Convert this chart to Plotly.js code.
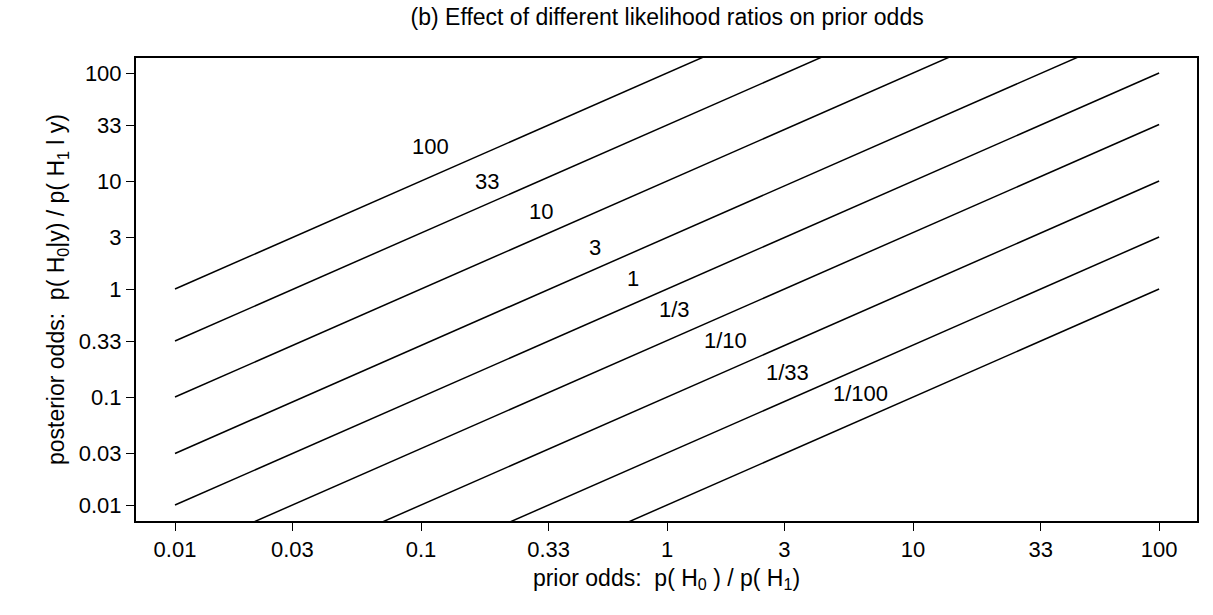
<!DOCTYPE html>
<html>
<head>
<meta charset="utf-8">
<script src="https://cdn.plot.ly/plotly-3.0.1.min.js"></script>
<style>body{margin:0;background:#fff}</style>
</head>
<body>
<div id="chart" style="width:1213px;height:615px"></div>
<script>
// likelihood ratios and their labels
var ratios = [100, 33, 10, 3, 1, 1/3, 1/10, 1/33, 1/100];
var ratioLabels = ['100', '33', '10', '3', '1', '1/3', '1/10', '1/33', '1/100'];
// prior odds range of each line
var priorOdds = [0.01, 100];
// label positions (log10 of prior odds / posterior odds)
var labelX = [-0.963, -0.730, -0.514, -0.293, -0.138, 0.031, 0.236, 0.488, 0.785];
var labelY = [1.324, 1.0, 0.722, 0.389, 0.093, -0.194, -0.481, -0.769, -0.972];

var tickVals = [0.01, 0.03, 0.1, 0.33, 1, 3, 10, 33, 100];
var tickText = ['0.01', '0.03', '0.1', '0.33', '1', '3', '10', '33', '100'];

var traces = ratios.map(function(r) {
    return {
        x: priorOdds,
        y: priorOdds.map(function(p) { return p * r; }),
        mode: 'lines',
        line: {color: 'black', width: 1.5},
        hoverinfo: 'skip',
        showlegend: false
    };
});

var annotations = ratioLabels.map(function(t, i) {
    return {x: labelX[i], y: labelY[i], text: t, showarrow: false,
            font: {size: 22, color: 'black'}};
});

var axisBase = {
    type: 'log',
    tickvals: tickVals,
    ticktext: tickText,
    ticks: 'outside',
    ticklen: 8,
    tickcolor: 'black',
    showline: true,
    linecolor: 'black',
    linewidth: 2,
    mirror: true,
    showgrid: false,
    zeroline: false,
    tickfont: {size: 22, color: 'black'}
};

var layout = {
    width: 1213, height: 615,
    font: {family: 'Liberation Sans, Arial, sans-serif', color: 'black'},
    paper_bgcolor: 'white', plot_bgcolor: 'white',
    margin: {l: 136, r: 16, t: 58, b: 94},
    title: {text: '(b) Effect of different likelihood ratios on prior odds',
            font: {size: 23}, x: 0.55, y: 0.985, yanchor: 'top'},
    xaxis: Object.assign({}, axisBase, {
        range: [-2.1585, 2.154],
        title: {text: 'prior odds:  p( H<sub>0</sub> ) / p( H<sub>1</sub>)', font: {size: 23}, standoff: 8}
    }),
    yaxis: Object.assign({}, axisBase, {
        range: [-2.148, 2.139],
        title: {text: 'posterior odds:  p( H<sub>0</sub>|y) / p( H<sub>1</sub> l y)', font: {size: 23}, standoff: 8}
    }),
    annotations: annotations
};

Plotly.newPlot('chart', traces, layout, {displayModeBar: false});
</script>
</body>
</html>
